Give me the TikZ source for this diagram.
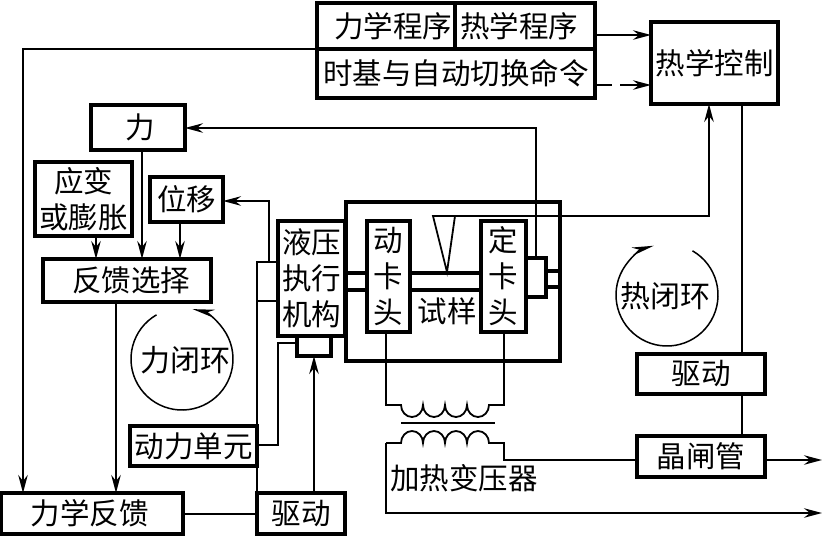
\documentclass[tikz,border=0pt]{standalone}
\usepackage{fontspec}
\setmainfont{Noto Sans CJK SC}
\usetikzlibrary{arrows.meta}
\tikzset{
  lbl/.style={inner sep=0pt,outer sep=0pt,align=center,font=\fontsize{29.5}{36}\selectfont},
  heavy/.style={draw,line width=3.4pt,lbl},
  conn/.style={line width=1.8pt},
  flow/.style={conn,-{Stealth[length=18pt,width=9.5pt,inset=6pt]}},
  rod/.style={line width=3.4pt},
  loopline/.style={line width=1.5pt,-{Stealth[length=22pt,width=8pt,inset=7pt]}}
}
% \blk{name}{x1}{y1}{x2}{y2}{text}: labelled box given by its corners
\newcommand{\blk}[6]{\node[heavy,minimum width={(#4-#2)*1pt},minimum height={(#5-#3)*1pt}] (#1) at ({(#2+#4)/2},{(#3+#5)/2}) {#6};}
\begin{document}
\begin{tikzpicture}[x=1pt,y=-1pt]
\useasboundingbox (0,0) rectangle (824,536);

% programme and control blocks
\blk{mechprog}{317}{3}{455}{49}{\hspace*{14pt}力学程序}
\blk{thermprog}{455}{3}{595}{49}{\hspace*{2pt}热学程序\hspace*{14pt}}
\blk{timebase}{317}{49}{595}{98}{时基与自动切换命令}
\blk{thermctl}{651}{22}{778}{104}{热学控制}

% measurement and feedback blocks
\blk{force}{91}{105}{185}{150}{\hspace*{5pt}力}
\blk{strain}{35}{162}{132}{236}{应变\\或膨胀}
\blk{disp}{150}{177}{223}{222}{位移}
\blk{select}{43}{259}{211}{302}{\hspace*{8pt}反馈选择}
\blk{mechfb}{1}{493}{183}{534}{力学反馈\hspace*{5pt}}
\blk{powerunit}{130}{426}{257}{466}{动力单元}
\blk{drivel}{257}{493}{345}{534}{驱动}

% load frame with actuator and grips
\node[draw,line width=3.4pt,inner sep=0pt,outer sep=0pt,minimum width=214pt,minimum height=159pt] (frame) at (453,281.5) {};
\blk{actuator}{278}{221}{345}{336}{液压\\执行\\机构}
\blk{valve}{297}{336}{331}{356}{}
\blk{movgrip}{367}{221}{410}{332}{动\\卡\\头}
\blk{fixgrip}{481}{221}{526}{332}{定\\卡\\头}
\blk{cell}{526}{258}{546}{297}{}
\node[lbl] (specimen) at (447,311) {试样};

% heating side
\blk{driver}{637}{354}{765}{394}{驱动}
\blk{thyristor}{637}{436}{765}{477}{晶闸管}
\node[lbl,anchor=west] (heatlabel) at (390,478) {加热变压器};
\node[lbl,font=\fontsize{30}{36}\selectfont] (forceloop) at (185,360) {力闭环};
\node[lbl,font=\fontsize{30}{36}\selectfont] (heatloop) at (665,296) {热闭环};

% reference coordinates for the routes
\coordinate (lx) at (23,0);
\coordinate (fx) at (142,0);
\coordinate (sx) at (96,0);
\coordinate (dx) at (180,0);
\coordinate (bx) at (116,0);
\coordinate (tapx) at (269,0);
\coordinate (busx) at (257,0);
\coordinate (oilx) at (278,0);
\coordinate (drvx) at (314,0);
\coordinate (cellx) at (536,0);
\coordinate (gaugex) at (709,0);
\coordinate (hotx) at (742,0);
\coordinate (coilL) at (386,0);
\coordinate (coilR) at (504,0);
\coordinate (endx) at (822,0);
\coordinate (yforce) at (0,128);
\coordinate (ydisp) at (0,201);
\coordinate (tapA) at (0,262);
\coordinate (tapB) at (0,301);
\coordinate (yoil) at (0,343);
\coordinate (ypri) at (0,405);
\coordinate (ysec) at (0,443);
\coordinate (ythy) at (0,460);
\coordinate (yout) at (0,513);
\coordinate (rodA) at (0,273);
\coordinate (rodB) at (0,290);
\coordinate (stubA) at (0,271);
\coordinate (stubB) at (0,287);
\coordinate (gauge) at (447,272);
\coordinate (gaugeL) at (433,216);
\coordinate (gaugeR) at (455,216);
\coordinate (forcec) at (182,359);
\coordinate (heatc) at (667,295);

% specimen rods
\draw[rod] (actuator.east |- rodA) -- (movgrip.west |- rodA);
\draw[rod] (actuator.east |- rodB) -- (movgrip.west |- rodB);
\draw[rod] (movgrip.east |- rodA) -- (fixgrip.west |- rodA);
\draw[rod] (movgrip.east |- rodB) -- (fixgrip.west |- rodB);
\draw[rod] (cell.east |- stubA) -- (frame.east |- stubA);
\draw[rod] (cell.east |- stubB) -- (frame.east |- stubB);

% extensometer wedge and its signal to the thermal control
\draw[conn] (gaugeR) -- (gauge) -- (gaugeL) -- (gaugeR);
\draw[flow] (gaugeR) -- (gaugeR -| gaugex) -- (thermctl.south -| gaugex);

% programme outputs
\draw[flow] (thermprog.east |- 0,35) -- (thermctl.west |- 0,35);
\draw[conn] (timebase.east |- 0,85) -- (612,85);
\draw[flow] (620,85) -- (thermctl.west |- 0,85);
\draw[flow] (timebase.west |- mechprog.south) -- (lx |- mechprog.south) -- (mechfb.north -| lx);

% feedback selection
\draw[flow] (cell.north -| cellx) -- (cellx |- yforce) -- (force.east |- yforce);
\draw[flow] (force.south -| fx) -- (select.north -| fx);
\draw[flow] (strain.south -| sx) -- (select.north -| sx);
\draw[flow] (disp.south -| dx) -- (select.north -| dx);
\draw[flow] (select.south -| bx) -- (mechfb.north -| bx);
\draw[flow] (actuator.west |- tapA) -- (tapx |- tapA) -- (tapx |- ydisp) -- (disp.east |- ydisp);
\draw[conn] (actuator.west |- tapB) -- (busx |- tapB) -- (busx |- tapA) -- (actuator.west |- tapA);
\draw[conn] (busx |- tapB) -- (drivel.north -| busx);

% hydraulic supply and servo drive
\draw[conn] (powerunit.east |- 0,445) -- (oilx |- 0,445) -- (oilx |- yoil) -- (valve.west |- yoil);
\draw[flow] (drivel.north -| drvx) -- (valve.south -| drvx);
\draw[conn] (mechfb.east |- 0,514) -- (drivel.west |- 0,514);

% heating circuit
\draw[conn] (thermctl.south -| hotx) -- (driver.north -| hotx);
\draw[conn] (driver.south -| hotx) -- (thyristor.north -| hotx);
\draw[flow] (thyristor.east |- ythy) -- (endx |- ythy);
\draw[conn] (movgrip.south -| coilL) -- (coilL |- ypri) -- (401,405)
  arc[start angle=180,end angle=360,x radius=11pt,y radius=12pt]
  arc[start angle=180,end angle=360,x radius=11pt,y radius=12pt]
  arc[start angle=180,end angle=360,x radius=11pt,y radius=12pt]
  arc[start angle=180,end angle=360,x radius=11pt,y radius=12pt]
  -- (coilR |- ypri) -- (fixgrip.south -| coilR);
\draw[conn] (401,423) -- (495,423);
\draw[conn] (thyristor.west |- ythy) -- (coilR |- ythy) -- (coilR |- ysec) -- (489,443)
  arc[start angle=0,end angle=180,x radius=11pt,y radius=12pt]
  arc[start angle=0,end angle=180,x radius=11pt,y radius=12pt]
  arc[start angle=0,end angle=180,x radius=11pt,y radius=12pt]
  arc[start angle=0,end angle=180,x radius=11pt,y radius=12pt]
  -- (coilL |- ysec);
\draw[flow] (coilL |- ysec) -- (coilL |- yout) -- (endx |- yout);

% loop direction circles
\draw[loopline] (forcec) ++(120:51pt) arc[start angle=120,end angle=438,radius=51pt];
\draw[loopline] (heatc) ++(60:51pt) arc[start angle=60,end angle=-255,radius=51pt];
\end{tikzpicture}
\end{document}
